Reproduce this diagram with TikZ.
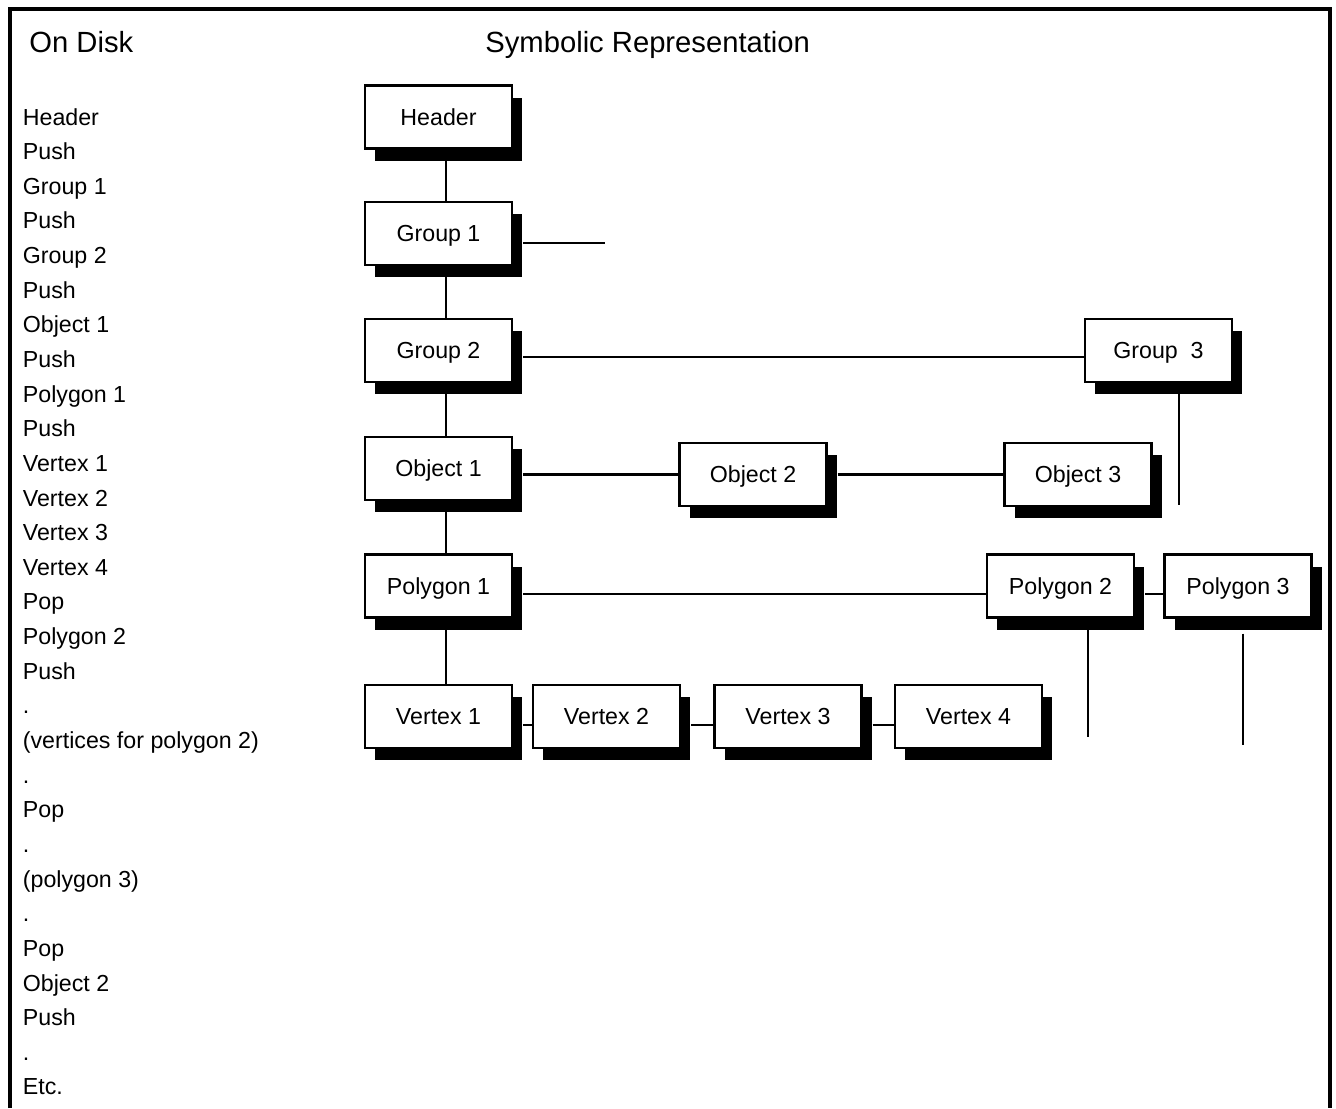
\documentclass[tikz,border=0pt]{standalone}
\usepackage{fontspec}
\setmainfont{Liberation Sans}
\usepackage{tikz}
\usetikzlibrary{calc,positioning,shadows}

\begin{document}
\begin{tikzpicture}[x=0.5pt, y=-0.5pt,
  every node/.style={font=\fontsize{11.6}{13}\selectfont},
  blockbox/.style={draw, rectangle, fill=white, line width=1.1pt,
    minimum width=73.5pt, minimum height=31.5pt, inner sep=0pt,
    text height=8.3pt, text depth=0pt,
    general shadow={fill=black, shadow xshift=5pt, shadow yshift=-6pt}},
  disktext/.style={anchor=base west, inner sep=0pt},
  headtext/.style={anchor=base west, inner sep=0pt, font=\fontsize{14.6}{17}\selectfont},
  link/.style={line width=1.25pt}]
  \useasboundingbox (0,0) rectangle (1336,1108);

  % Frame
  \draw[line width=2pt] (9.5,1108) |- (1329.5,8.5) -- (1329.5,1108);

  % Headings
  \node[headtext] (ondisk) at (29,52) {On Disk};
  \node[headtext] (symrep) at (485,52) {Symbolic Representation};

  % On disk list
  \foreach \t [count=\i] in {Header, Push, Group 1, Push, Group 2, Push, Object 1, Push,
      Polygon 1, Push, Vertex 1, Vertex 2, Vertex 3, Vertex 4, Pop, Polygon 2, Push, .,
      {(vertices for polygon 2)}, ., Pop, ., {(polygon 3)}, ., Pop, Object 2, Push, ., Etc.}
    \node[disktext] (disk\i) at (22.5,{125+34.64*(\i-1)}) {\t};

  % Main column
  \node[blockbox] (hdr) at (438.5,117) {Header};
  \node[blockbox] (grp1) at (438.5,233.5) {Group 1};
  \node[blockbox] (grp2) at (438.5,350.5) {Group 2};
  \node[blockbox] (obj1) at (438.5,468.5) {Object 1};
  \node[blockbox] (poly1) at (438.5,586) {Polygon 1};

  % Siblings
  \node[blockbox] (grp3) at (1158.5,350.5) {Group~~3};
  \node[blockbox] (obj2) at (753,474.5) {Object 2};
  \node[blockbox] (obj3) at (1078,474.5) {Object 3};
  \node[blockbox] (poly2) at (1060.5,586) {Polygon 2};
  \node[blockbox] (poly3) at (1238,586) {Polygon 3};

  % Vertices
  \node[blockbox] (vtx1) at (438.5,716.5) {Vertex 1};
  \node[blockbox] (vtx2) at (606.5,716.5) {Vertex 2};
  \node[blockbox] (vtx3) at (788,716.5) {Vertex 3};
  \node[blockbox] (vtx4) at (968.5,716.5) {Vertex 4};

  % Loose ends
  \coordinate (grp1end) at (605,243);
  \coordinate (grp3end) at (1179,505);
  \coordinate (poly2end) at (1088,737);
  \coordinate (poly3end) at (1243,745);

  % Links
  \foreach \a/\b in {hdr/grp1, grp1/grp2, grp2/obj1, obj1/poly1, poly1/vtx1}
    \draw[link] ([xshift=3.75pt]\a.south) -- ([xshift=3.75pt]\b.north);
  \draw[link] ([xshift=5pt]grp1.east |- grp1end) -- (grp1end);
  \draw[link] ([xshift=5pt,yshift=-3.25pt]grp2.east) -- ([yshift=-3.25pt]grp3.west);
  \draw[link] ([xshift=5pt]obj1.east |- obj2.west) -- (obj2.west);
  \draw[link] ([xshift=5pt]obj2.east) -- (obj3.west);
  \draw[link] ([xshift=5pt,yshift=-4pt]poly1.east) -- ([yshift=-4pt]poly2.west);
  \draw[link] ([xshift=5pt,yshift=-4pt]poly2.east) -- ([yshift=-4pt]poly3.west);
  \foreach \a/\b in {vtx1/vtx2, vtx2/vtx3, vtx3/vtx4}
    \draw[link] ([xshift=5pt,yshift=-4.25pt]\a.east) -- ([yshift=-4.25pt]\b.west);
  \draw[link] (grp3.south -| grp3end) -- (grp3end);
  \draw[link] (poly2.south -| poly2end) -- (poly2end);
  \draw[link] ([yshift=-7.5pt]poly3.south -| poly3end) -- (poly3end);
\end{tikzpicture}
\end{document}
